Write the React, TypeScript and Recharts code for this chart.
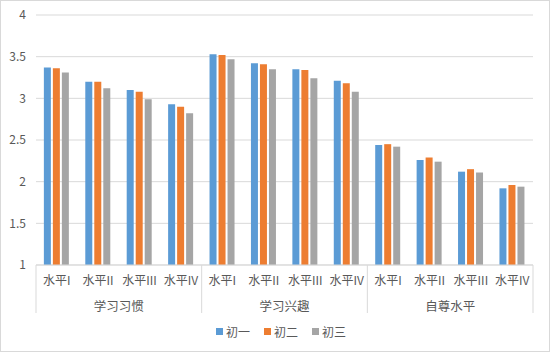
import React from 'react';
import { BarChart, Bar, XAxis, YAxis, CartesianGrid, Legend } from 'recharts';

const levels = ['水平I', '水平II', '水平III', '水平IV'];
const groups = ['学习习惯', '学习兴趣', '自尊水平'];
const seriesNames = ['初一', '初二', '初三'];
const seriesColors = ['#5b9bd5', '#ed7d31', '#a5a5a5'];

const grade1 = [3.37, 3.2, 3.1, 2.93, 3.53, 3.42, 3.35, 3.21, 2.44, 2.26, 2.12, 1.92];
const grade2 = [3.36, 3.2, 3.08, 2.9, 3.52, 3.41, 3.34, 3.18, 2.45, 2.29, 2.15, 1.96];
const grade3 = [3.31, 3.12, 2.99, 2.82, 3.47, 3.35, 3.24, 3.08, 2.42, 2.24, 2.11, 1.94];
const yTicks = [1, 1.5, 2, 2.5, 3, 3.5, 4];

const W = 548;
const H = 350;
const margin = { top: 14, right: 16, left: 0, bottom: 2 };
const yAxisWidth = 35;
const band = (W - margin.left - margin.right - yAxisWidth) / (levels.length * groups.length);

const data = grade1.map((v, i) => ({
  name: levels[i % levels.length],
  group: groups[Math.floor(i / levels.length)],
  g1: v,
  g2: grade2[i],
  g3: grade3[i],
}));

const textColor = '#595959';
const lineColor = '#d9d9d9';
const font = '"Noto Sans CJK SC", "Noto Sans", sans-serif';

// 两级分类轴：水平 + 维度
const CategoryTick = (props: any) => {
  const { x, y, payload } = props;
  const i = payload.index;
  const pos = i % levels.length;
  return (
    <g>
      <text x={x} y={y + 20} textAnchor="middle" fontSize={12} fill={textColor} fontFamily={font}>
        {data[i].name}
      </text>
      {pos === 0 && <line x1={x - band / 2} x2={x - band / 2} y1={y} y2={y + 48} stroke={lineColor} />}
      {i === data.length - 1 && <line x1={x + band / 2} x2={x + band / 2} y1={y} y2={y + 48} stroke={lineColor} />}
      {pos === 1 && (
        <text x={x + band / 2} y={y + 45.5} textAnchor="middle" fontSize={12.5} fill={textColor} fontFamily={font}>
          {data[i].group}
        </text>
      )}
    </g>
  );
};

const LegendContent = () => (
  <div style={{ display: 'flex', justifyContent: 'center', alignItems: 'center', height: 36, paddingLeft: 28 }}>
    {seriesNames.map((n, i) => (
      <div key={n} style={{ display: 'flex', alignItems: 'center', marginRight: i < seriesNames.length - 1 ? 14 : 0 }}>
        <span style={{ width: 7, height: 7, background: seriesColors[i], marginRight: 3 }} />
        <span style={{ fontSize: 12, color: textColor, fontFamily: font }}>{n}</span>
      </div>
    ))}
  </div>
);

const App = () => {
  return (
    <div
      style={{
        position: 'absolute',
        left: 0,
        top: 0,
        width: 550,
        height: 352,
        boxSizing: 'border-box',
        border: `1px solid ${lineColor}`,
        background: '#fff',
      }}
    >
      <BarChart width={W} height={H} data={data} margin={margin} barCategoryGap="19%" barGap={2}>
        <CartesianGrid vertical={false} stroke={lineColor} />
        <XAxis
          dataKey="name"
          interval={0}
          tickLine={false}
          tickSize={0}
          tickMargin={0}
          height={48}
          axisLine={{ stroke: lineColor }}
          tick={<CategoryTick />}
        />
        <YAxis
          width={yAxisWidth}
          domain={[1, 4]}
          ticks={yTicks}
          axisLine={false}
          tickLine={false}
          tickSize={0}
          tickMargin={10}
          tick={{ fontSize: 12, fill: textColor, fontFamily: font }}
        />
        <Legend verticalAlign="bottom" content={<LegendContent />} />
        <Bar dataKey="g1" name={seriesNames[0]} fill={seriesColors[0]} isAnimationActive={false} />
        <Bar dataKey="g2" name={seriesNames[1]} fill={seriesColors[1]} isAnimationActive={false} />
        <Bar dataKey="g3" name={seriesNames[2]} fill={seriesColors[2]} isAnimationActive={false} />
      </BarChart>
    </div>
  );
};

export default App;
